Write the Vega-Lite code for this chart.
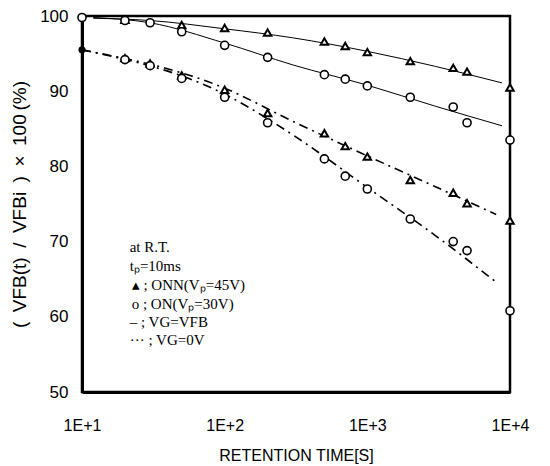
{
  "$schema": "https://vega.github.io/schema/vega-lite/v6.json",
  "width": 428,
  "height": 376,
  "autosize": "none",
  "padding": {"left": 82, "top": 16, "right": 40, "bottom": 74},
  "background": "white",
  "config": {
    "view": {"stroke": "black", "strokeWidth": 2.5},
    "font": "Liberation Sans"
  },
  "datasets": {
    "pts": [
      {"t": 10, "v": 99.8, "s": "ON_FB"},
      {"t": 20, "v": 99.4, "s": "ON_FB"},
      {"t": 20, "v": 99.5, "s": "ONN_FB"},
      {"t": 30, "v": 99.1, "s": "ON_FB"},
      {"t": 50, "v": 98.8, "s": "ONN_FB"},
      {"t": 50, "v": 97.9, "s": "ON_FB"},
      {"t": 100, "v": 98.4, "s": "ONN_FB"},
      {"t": 100, "v": 96.1, "s": "ON_FB"},
      {"t": 200, "v": 97.8, "s": "ONN_FB"},
      {"t": 200, "v": 94.5, "s": "ON_FB"},
      {"t": 500, "v": 96.6, "s": "ONN_FB"},
      {"t": 500, "v": 92.2, "s": "ON_FB"},
      {"t": 700, "v": 96.0, "s": "ONN_FB"},
      {"t": 700, "v": 91.6, "s": "ON_FB"},
      {"t": 1000, "v": 95.2, "s": "ONN_FB"},
      {"t": 1000, "v": 90.7, "s": "ON_FB"},
      {"t": 2000, "v": 94.0, "s": "ONN_FB"},
      {"t": 2000, "v": 89.2, "s": "ON_FB"},
      {"t": 4000, "v": 93.1, "s": "ONN_FB"},
      {"t": 4000, "v": 87.9, "s": "ON_FB"},
      {"t": 5000, "v": 92.6, "s": "ONN_FB"},
      {"t": 5000, "v": 85.8, "s": "ON_FB"},
      {"t": 10000, "v": 90.5, "s": "ONN_FB"},
      {"t": 10000, "v": 83.5, "s": "ON_FB"},
      {"t": 20, "v": 94.4, "s": "ONN_0V"},
      {"t": 20, "v": 94.2, "s": "ON_0V"},
      {"t": 30, "v": 93.7, "s": "ONN_0V"},
      {"t": 30, "v": 93.4, "s": "ON_0V"},
      {"t": 50, "v": 92.1, "s": "ONN_0V"},
      {"t": 50, "v": 91.7, "s": "ON_0V"},
      {"t": 100, "v": 90.2, "s": "ONN_0V"},
      {"t": 100, "v": 89.2, "s": "ON_0V"},
      {"t": 200, "v": 87.1, "s": "ONN_0V"},
      {"t": 200, "v": 85.8, "s": "ON_0V"},
      {"t": 500, "v": 84.4, "s": "ONN_0V"},
      {"t": 500, "v": 81.0, "s": "ON_0V"},
      {"t": 700, "v": 82.7, "s": "ONN_0V"},
      {"t": 700, "v": 78.7, "s": "ON_0V"},
      {"t": 1000, "v": 81.3, "s": "ONN_0V"},
      {"t": 1000, "v": 77.0, "s": "ON_0V"},
      {"t": 2000, "v": 78.2, "s": "ONN_0V"},
      {"t": 2000, "v": 73.0, "s": "ON_0V"},
      {"t": 4000, "v": 76.5, "s": "ONN_0V"},
      {"t": 4000, "v": 70.0, "s": "ON_0V"},
      {"t": 5000, "v": 75.1, "s": "ONN_0V"},
      {"t": 5000, "v": 68.8, "s": "ON_0V"},
      {"t": 10000, "v": 72.8, "s": "ONN_0V"},
      {"t": 10000, "v": 60.8, "s": "ON_0V"}
    ],
    "start": [
      {"t": 10, "v": 95.5}
    ],
    "xticks": [
      {"t": 20}, {"t": 30}, {"t": 40}, {"t": 50}, {"t": 60}, {"t": 70}, {"t": 80}, {"t": 90}, {"t": 100},
      {"t": 200}, {"t": 300}, {"t": 400}, {"t": 500}, {"t": 600}, {"t": 700}, {"t": 800}, {"t": 900}, {"t": 1000},
      {"t": 2000}, {"t": 3000}, {"t": 4000}, {"t": 5000}, {"t": 6000}, {"t": 7000}, {"t": 8000}, {"t": 9000}
    ],
    "yticks": [
      {"v": 60}, {"v": 70}, {"v": 80}, {"v": 90}
    ],
    "fits": [
      {"t": 12, "v": 99.7, "s": "ONN_FB"},
      {"t": 30, "v": 99.4, "s": "ONN_FB"},
      {"t": 100, "v": 98.3, "s": "ONN_FB"},
      {"t": 300, "v": 97.1, "s": "ONN_FB"},
      {"t": 1000, "v": 95.3, "s": "ONN_FB"},
      {"t": 3000, "v": 93.3, "s": "ONN_FB"},
      {"t": 8800, "v": 91.1, "s": "ONN_FB"},
      {"t": 12, "v": 99.8, "s": "ON_FB"},
      {"t": 30, "v": 99.1, "s": "ON_FB"},
      {"t": 100, "v": 96.4, "s": "ON_FB"},
      {"t": 300, "v": 93.5, "s": "ON_FB"},
      {"t": 1000, "v": 90.8, "s": "ON_FB"},
      {"t": 3000, "v": 88.0, "s": "ON_FB"},
      {"t": 8800, "v": 85.4, "s": "ON_FB"},
      {"t": 10, "v": 95.5, "s": "ONN_0V"},
      {"t": 100, "v": 90.4, "s": "ONN_0V"},
      {"t": 300, "v": 86.0, "s": "ONN_0V"},
      {"t": 1000, "v": 81.4, "s": "ONN_0V"},
      {"t": 3000, "v": 77.3, "s": "ONN_0V"},
      {"t": 8000, "v": 73.6, "s": "ONN_0V"},
      {"t": 10, "v": 95.5, "s": "ON_0V"},
      {"t": 100, "v": 89.6, "s": "ON_0V"},
      {"t": 300, "v": 84.2, "s": "ON_0V"},
      {"t": 1000, "v": 77.2, "s": "ON_0V"},
      {"t": 3000, "v": 70.8, "s": "ON_0V"},
      {"t": 8000, "v": 64.6, "s": "ON_0V"}
    ],
    "notes": [
      {"t": 21.6, "v": 69.3, "label": "at R.T."},
      {"t": 21.6, "v": 66.8, "label": "tₚ=10ms"},
      {"t": 22.3, "v": 64.2, "label": "▴ ; ONN(Vₚ=45V)"},
      {"t": 22.3, "v": 61.7, "label": "o ; ON(Vₚ=30V)"},
      {"t": 21.6, "v": 59.3, "label": "– ; VG=VFB"},
      {"t": 21.6, "v": 56.9, "label": "··· ; VG=0V"}
    ]
  },
  "resolve": {"axis": {"x": "independent", "y": "independent"}},
  "layer": [
    {
      "data": {"name": "start"},
      "mark": {"type": "point", "opacity": 0},
      "encoding": {
        "x": {
          "field": "t",
          "type": "quantitative",
          "scale": {"type": "log", "domain": [10, 10000], "nice": false},
          "axis": {
            "orient": "bottom",
            "title": "RETENTION TIME[S]",
            "values": [10, 100, 1000, 10000],
            "labelExpr": "datum.value == 10 ? '1E+1' : datum.value == 100 ? '1E+2' : datum.value == 1000 ? '1E+3' : '1E+4'",
            "labelFontSize": 16,
            "labelColor": "black",
            "labelPadding": 25,
            "labelOverlap": false,
            "labelFlush": false,
            "titleFontSize": 16,
            "titleFontWeight": "normal",
            "titleColor": "black",
            "titlePadding": 14,
            "ticks": false,
            "domainColor": "black",
            "domainWidth": 3,
            "gridOpacity": 0
          }
        },
        "y": {
          "field": "v",
          "type": "quantitative",
          "scale": {"domain": [50, 100], "nice": false},
          "axis": {
            "orient": "left",
            "title": "(\u2002VFB(t)\u2002/\u2002VFBi\u2002)\u2002×\u2002100\u2009(%)",
            "values": [50, 60, 70, 80, 90, 100],
            "labelFontSize": 17,
            "labelColor": "black",
            "labelPadding": 14,
            "titleFontSize": 19,
            "titleFontWeight": "normal",
            "titleColor": "black",
            "titlePadding": 10,
            "ticks": false,
            "domainColor": "black",
            "domainWidth": 3,
            "gridOpacity": 0
          }
        }
      }
    },
    {
      "layer": [
        {
          "data": {"name": "xticks"},
          "mark": {"type": "tick", "orient": "vertical", "color": "black", "size": 12, "thickness": 1.6, "clip": true, "opacity": 1},
          "encoding": {"y": {"datum": 50}}
        },
        {
          "data": {"name": "yticks"},
          "mark": {"type": "tick", "orient": "horizontal", "color": "black", "size": 12, "thickness": 1.6, "clip": true, "opacity": 1},
          "encoding": {"x": {"datum": 10}}
        },
        {
          "data": {"name": "fits"},
          "transform": [{"filter": "datum.s == 'ONN_FB' || datum.s == 'ON_FB'"}],
          "mark": {"type": "line", "color": "black", "strokeWidth": 1, "interpolate": "monotone"},
          "encoding": {"detail": {"field": "s"}}
        },
        {
          "data": {"name": "fits"},
          "transform": [{"filter": "datum.s == 'ONN_0V' || datum.s == 'ON_0V'"}],
          "mark": {"type": "line", "color": "black", "strokeWidth": 1.6, "strokeDash": [9, 5, 2, 5], "interpolate": "monotone"},
          "encoding": {"detail": {"field": "s"}}
        },
        {
          "data": {"name": "pts"},
          "transform": [{"filter": "datum.s == 'ONN_FB' || datum.s == 'ONN_0V'"}],
          "mark": {"type": "point", "shape": "triangle-up", "filled": false, "stroke": "black", "strokeWidth": 2, "size": 55, "fill": "white", "fillOpacity": 1}
        },
        {
          "data": {"name": "pts"},
          "transform": [{"filter": "datum.s == 'ON_FB' || datum.s == 'ON_0V'"}],
          "mark": {"type": "point", "shape": "circle", "filled": false, "stroke": "black", "strokeWidth": 1.6, "size": 65, "fill": "white", "fillOpacity": 1}
        },
        {
          "data": {"name": "start"},
          "mark": {"type": "point", "shape": "circle", "filled": true, "color": "black", "size": 50, "opacity": 1}
        },
        {
          "data": {"name": "notes"},
          "mark": {"type": "text", "align": "left", "baseline": "middle", "font": "Liberation Serif", "fontSize": 15, "color": "black"},
          "encoding": {"text": {"field": "label"}}
        }
      ],
      "encoding": {
        "x": {
          "field": "t",
          "type": "quantitative",
          "scale": {"type": "log", "domain": [10, 10000], "nice": false},
          "axis": null
        },
        "y": {
          "field": "v",
          "type": "quantitative",
          "scale": {"domain": [50, 100], "nice": false},
          "axis": null
        }
      }
    }
  ]
}
